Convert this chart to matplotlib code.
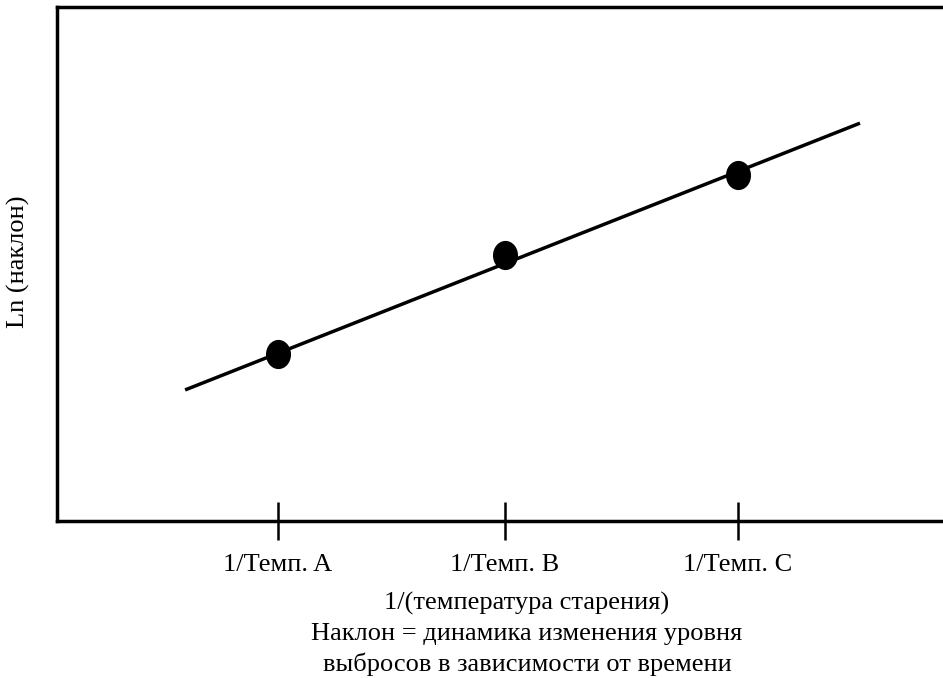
import matplotlib
matplotlib.use("Agg")
import matplotlib.pyplot as plt
from matplotlib.path import Path
from matplotlib.transforms import Affine2D

plt.rcParams['font.family'] = ['Liberation Serif', 'DejaVu Serif']

# data (arbitrary units)
x_points = [1, 1.987, 3]
y_points = [3.25, 5.18, 6.73]
x_line = [0.596, 3.53]
y_line = [2.55, 7.74]
tick_labels = ["1/Темп. A", "1/Темп. B", "1/Темп. C"]

# slightly tall ellipse marker
ellipse = Path.unit_circle().transformed(Affine2D().scale(0.85, 1.0))

fig = plt.figure(figsize=(9.43, 6.78), dpi=100)
ax = fig.add_axes([57 / 943, 1 - 521 / 678, 1 - 57 / 943 + 0.01, (521 - 7) / 678])

ax.plot(x_line, y_line, color="black", lw=2.5, solid_capstyle="butt")
ax.plot(x_points, y_points, ls="none", marker=ellipse, ms=20, color="black")

ax.set_xlim(0.039, 3.891 + 0.01 * 943 / 230)
ax.set_ylim(0, 10)

ax.spines["right"].set_visible(False)
for s in ["left", "top", "bottom"]:
    ax.spines[s].set_linewidth(2.5)

ax.set_xticks(x_points)
ax.set_xticklabels(tick_labels, fontsize=19)
ax.tick_params(axis="x", direction="inout", length=27, width=1.8, pad=10)
ax.set_yticks([])

fs = 19
fig.text(18 / 943, 1 - 262 / 678, "Ln (наклон)", rotation=90, fontsize=fs,
         ha="center", va="center")
fig.text(527 / 943, 1 - 603 / 678, "1/(температура старения)", fontsize=fs,
         ha="center", va="center")
fig.text(527 / 943, 1 - 634 / 678, "Наклон = динамика изменения уровня", fontsize=fs,
         ha="center", va="center")
fig.text(527 / 943, 1 - 664 / 678, "выбросов в зависимости от времени", fontsize=fs,
         ha="center", va="center")

fig.savefig("out.png", dpi=100)
